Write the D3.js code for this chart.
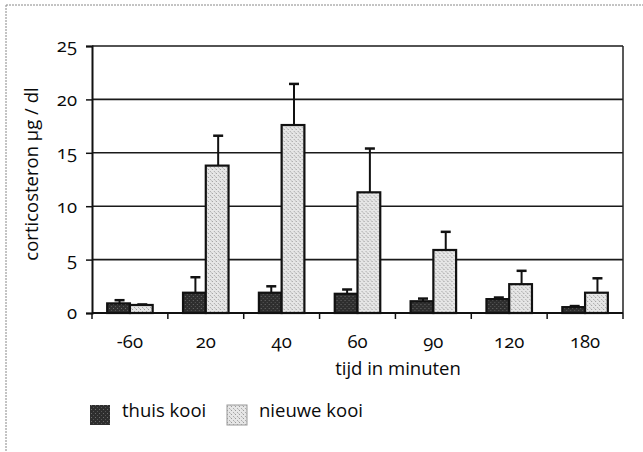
<!DOCTYPE html>
<html>
<head>
<meta charset="utf-8">
<script src="https://cdn.jsdelivr.net/npm/d3@7"></script>
<style>
  html, body { margin: 0; padding: 0; background: #fff; }
  svg text { font-family: "Open Sans", "Lato", sans-serif; fill: #0a0a0a; font-variant-numeric: oldstyle-nums; }
</style>
</head>
<body>
<svg id="chart" width="643" height="452"></svg>
<script>
// tijd in minuten
const categories = ["-60", "20", "40", "60", "90", "120", "180"];
const seriesNames = ["thuis kooi", "nieuwe kooi"];
const thuisKooi = [0.9, 1.9, 1.9, 1.8, 1.1, 1.3, 0.55];
const thuisErr = [0.3, 1.45, 0.6, 0.4, 0.25, 0.15, 0.1];
const nieuweKooi = [0.75, 13.8, 17.6, 11.3, 5.9, 2.7, 1.9];
const nieuweErr = [0.05, 2.8, 3.85, 4.1, 1.7, 1.25, 1.35];
const yTicks = [0, 5, 10, 15, 20, 25];

const svg = d3.select("#chart");
const margin = { top: 46, right: 20, bottom: 139, left: 92 };
const width = 643, height = 452;
const fontSize = 18.5;

// textures for the scanned fills
const defs = svg.append("defs");
const dark = defs.append("pattern").attr("id", "darkFill")
    .attr("width", 4).attr("height", 4).attr("patternUnits", "userSpaceOnUse");
dark.append("rect").attr("width", 4).attr("height", 4).attr("fill", "#2e2e2e");
dark.append("rect").attr("x", 1).attr("y", 0).attr("width", 1).attr("height", 1).attr("fill", "#6a6a6a");
dark.append("rect").attr("x", 3).attr("y", 2).attr("width", 1).attr("height", 1).attr("fill", "#555");
const light = defs.append("pattern").attr("id", "lightFill")
    .attr("width", 4).attr("height", 4).attr("patternUnits", "userSpaceOnUse");
light.append("rect").attr("width", 4).attr("height", 4).attr("fill", "#e6e6e6");
light.append("rect").attr("x", 0).attr("y", 1).attr("width", 1).attr("height", 1).attr("fill", "#9a9a9a");
light.append("rect").attr("x", 2).attr("y", 3).attr("width", 1).attr("height", 1).attr("fill", "#aaa");
light.append("rect").attr("x", 3).attr("y", 0).attr("width", 1).attr("height", 1).attr("fill", "#c4c4c4");

const fills = ["url(#darkFill)", "url(#lightFill)"];

// frame of the scan
svg.append("line").attr("x1", 6).attr("x2", width).attr("y1", 5).attr("y2", 5)
    .attr("stroke", "#888").attr("stroke-width", 1).attr("stroke-dasharray", "2,1");
svg.append("line").attr("x1", 6).attr("x2", 6).attr("y1", 5).attr("y2", height)
    .attr("stroke", "#888").attr("stroke-width", 1).attr("stroke-dasharray", "2,1");

const x = d3.scaleBand()
    .domain(categories)
    .range([margin.left, width - margin.right]);

const bw = x.bandwidth();
const x1 = d3.scaleBand()
    .domain(seriesNames)
    .range([bw * 0.2, bw * 0.8]);

const y = d3.scaleLinear()
    .domain([0, 25])
    .range([height - margin.bottom, margin.top]);

// gridlines
svg.append("g")
    .selectAll("line")
    .data(yTicks.filter(d => d > 0))
    .join("line")
    .attr("x1", margin.left)
    .attr("x2", width - margin.right)
    .attr("y1", d => y(d))
    .attr("y2", d => y(d))
    .attr("stroke", "#1a1a1a")
    .attr("stroke-width", 1.6);

// right border
svg.append("line")
    .attr("x1", width - margin.right).attr("x2", width - margin.right)
    .attr("y1", y(25)).attr("y2", y(0))
    .attr("stroke", "#222").attr("stroke-width", 1.5);

const data = categories.map((c, i) => ({
    cat: c,
    values: [
        { name: seriesNames[0], value: thuisKooi[i], err: thuisErr[i], fill: fills[0] },
        { name: seriesNames[1], value: nieuweKooi[i], err: nieuweErr[i], fill: fills[1] }
    ]
}));

const groups = svg.append("g")
    .selectAll("g")
    .data(data)
    .join("g")
    .attr("transform", d => `translate(${x(d.cat)},0)`);

// error bars (upper only)
groups.selectAll("g.err")
    .data(d => d.values)
    .join("g")
    .attr("class", "err")
    .each(function (d) {
        const g = d3.select(this);
        const cx = x1(d.name) + x1.bandwidth() / 2 + 1;
        g.append("line")
            .attr("x1", cx).attr("x2", cx)
            .attr("y1", y(d.value)).attr("y2", y(d.value + d.err))
            .attr("stroke", "#111").attr("stroke-width", 2);
        g.append("line")
            .attr("x1", cx - 5).attr("x2", cx + 5)
            .attr("y1", y(d.value + d.err)).attr("y2", y(d.value + d.err))
            .attr("stroke", "#111").attr("stroke-width", 2.5);
    });

groups.selectAll("rect")
    .data(d => d.values)
    .join("rect")
    .attr("x", d => x1(d.name))
    .attr("y", d => y(d.value))
    .attr("width", x1.bandwidth())
    .attr("height", d => y(0) - y(d.value))
    .attr("fill", d => d.fill)
    .attr("stroke", "#111")
    .attr("stroke-width", 2.2);

// y axis
const yAxis = svg.append("g")
    .attr("transform", `translate(${margin.left},0)`)
    .call(d3.axisLeft(y).tickValues(yTicks).tickSize(6).tickPadding(9));
yAxis.select(".domain").attr("stroke", "#111").attr("stroke-width", 2);
yAxis.selectAll(".tick line").attr("stroke", "#111").attr("stroke-width", 1.5);
yAxis.selectAll(".tick text").attr("font-size", fontSize).attr("fill", "#0a0a0a");

// x axis: ticks at band boundaries
const xAxis = svg.append("g")
    .attr("transform", `translate(0,${y(0)})`);
xAxis.append("line")
    .attr("x1", margin.left).attr("x2", width - margin.right)
    .attr("stroke", "#111").attr("stroke-width", 2);
xAxis.selectAll("line.tk")
    .data(categories.concat(["end"]))
    .join("line")
    .attr("class", "tk")
    .attr("x1", d => d === "end" ? x.range()[1] : x(d))
    .attr("x2", d => d === "end" ? x.range()[1] : x(d))
    .attr("y1", 0).attr("y2", 6)
    .attr("stroke", "#111").attr("stroke-width", 1.5);
xAxis.selectAll("text")
    .data(categories)
    .join("text")
    .attr("x", d => x(d) + bw / 2)
    .attr("y", 35)
    .attr("text-anchor", "middle")
    .attr("font-size", fontSize)
    .text(d => d);

// axis titles
svg.append("text")
    .attr("x", 398)
    .attr("y", 375)
    .attr("text-anchor", "middle")
    .attr("font-size", fontSize)
    .text("tijd in minuten");

svg.append("text")
    .attr("transform", "translate(38,174) rotate(-90)")
    .attr("text-anchor", "middle")
    .attr("font-size", fontSize)
    .text("corticosteron μg / dl");

// legend
const legendX = [90, 227];
const legend = svg.append("g")
    .selectAll("g")
    .data(seriesNames)
    .join("g")
    .attr("transform", (d, i) => `translate(${legendX[i]},405)`);
legend.append("rect")
    .attr("width", 20).attr("height", 20)
    .attr("fill", (d, i) => fills[i])
    .attr("stroke", (d, i) => i === 0 ? "none" : "#999")
    .attr("stroke-width", 1);
legend.append("text")
    .attr("x", 32).attr("y", 12)
    .attr("font-size", fontSize)
    .text(d => d);
</script>
</body>
</html>
